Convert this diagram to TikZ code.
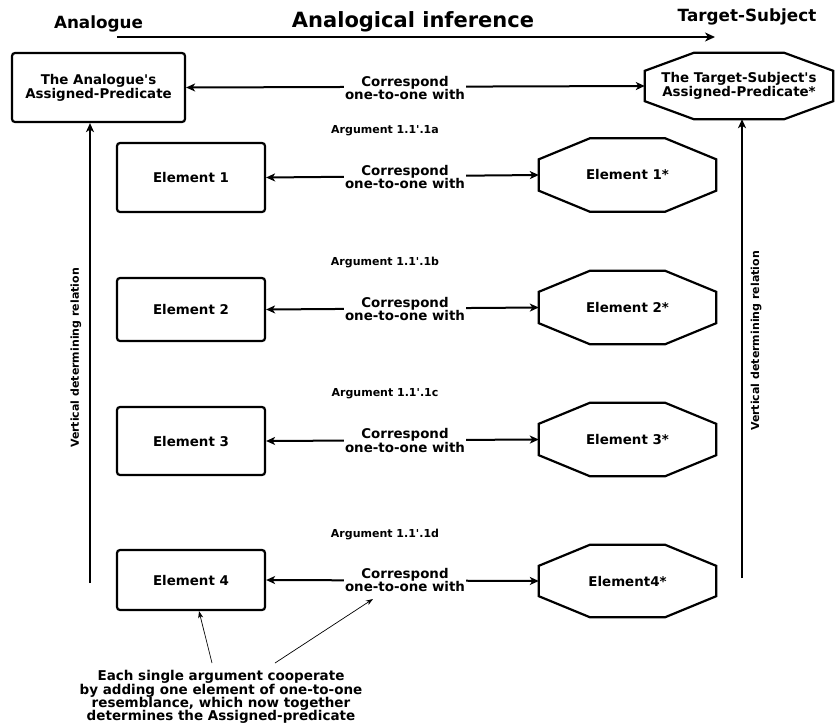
\documentclass[tikz,border=0pt]{standalone}
\usepackage{fontspec}
\setmainfont{DejaVu Sans}[Ligatures=TeXOff]
\usetikzlibrary{arrows.meta,calc}
\newcommand\octdraw[3]{%
  \draw[octline] ($(#1.north west)+(#2,0)$) -- ($(#1.north east)+(-#2,0)$)
    -- ($(#1.north east)+(0,#3)$) -- ($(#1.south east)+(0,-#3)$)
    -- ($(#1.south east)+(-#2,0)$) -- ($(#1.south west)+(#2,0)$)
    -- ($(#1.south west)+(0,-#3)$) -- ($(#1.north west)+(0,#3)$) -- cycle;}
\begin{document}
\begin{tikzpicture}[x=1pt,y=-1pt,
  ftxt/.style={font=\fontsize{13.4}{12.5}\selectfont\bfseries, align=center},
  rbox/.style={ftxt, draw, line width=2.2pt, rounded corners=3pt, inner sep=0pt, minimum width=148pt},
  obox/.style={ftxt, rectangle, inner sep=0pt, minimum width=177pt, minimum height=73pt},
  octline/.style={line width=2.2pt, line join=miter},
  corr/.style={ftxt, fill=white, inner sep=1.5pt},
  argl/.style={font=\fontsize{11}{12}\selectfont\bfseries},
  vlab/.style={font=\fontsize{11}{12}\selectfont\bfseries, rotate=90},
  headl/.style={font=\fontsize{16.8}{18}\selectfont\bfseries, anchor=base},
  biarrow/.style={line width=2pt, {Stealth[length=9pt,width=8pt,inset=2.5pt]}-{Stealth[length=9pt,width=8pt,inset=2.5pt]}},
  uparrow/.style={line width=2pt, -{Stealth[length=9pt,width=8pt,inset=2.5pt]}},
  thinarrow/.style={line width=0.7pt, -{Stealth[length=7pt,width=5pt,inset=2pt]}}
]
\useasboundingbox (0,0) rectangle (835,726);

% headings
\node[headl] (lana) at (98.5,28) {Analogue};
\node[headl, font=\fontsize{21}{24}\selectfont\bfseries] (ttl) at (413,27) {Analogical inference};
\node[headl] (ltgt) at (747,21) {Target-Subject};
\coordinate (hs) at (117,37);
\coordinate (he) at (715,37);
\draw[line width=2.6pt, -{Stealth[length=10pt,width=9pt,inset=3pt]}] (hs) -- (he);

% top row
\node[rbox, minimum width=173pt, minimum height=69pt] (a0) at (98.5,87.5) {The Analogue's\\Assigned-Predicate};
\node[obox, minimum width=188pt, minimum height=66pt] (t0) at (739,86) {The Target-Subject's\\Assigned-Predicate*};
\octdraw{t0}{49}{18}

% element rows
\node[rbox, minimum height=69pt] (e1) at (191,177.5) {Element 1};
\node[obox] (o1) at (627.5,175) {Element 1*};
\node[rbox, minimum height=63pt] (e2) at (191,309.5) {Element 2};
\node[obox] (o2) at (627.5,307.5) {Element 2*};
\node[rbox, minimum height=68pt] (e3) at (191,441) {Element 3};
\node[obox] (o3) at (627.5,439.5) {Element 3*};
\node[rbox, minimum height=60pt] (e4) at (191,580) {Element 4};
\node[obox, minimum height=72pt] (o4) at (627.5,581) {Element4*};
\octdraw{o1}{51}{21}
\octdraw{o2}{51}{21}
\octdraw{o3}{51}{21}
\octdraw{o4}{51}{21}

% correspondence arrows
\draw[biarrow] (a0.east) -- (t0.west);
\draw[biarrow] (e1.east) -- (o1.west);
\draw[biarrow] (e2.east) -- (o2.west);
\draw[biarrow] (e3.east) -- (o3.west);
\draw[biarrow] (e4.east) -- (o4.west);
\node[corr] (l0) at (405,88) {Correspond\\one-to-one with};
\node[corr] (l1) at (405,177) {Correspond\\one-to-one with};
\node[corr] (l2) at (405,309) {Correspond\\one-to-one with};
\node[corr] (l3) at (405,440.5) {Correspond\\one-to-one with};
\node[corr] (l4) at (405,580) {Correspond\\one-to-one with};

% argument labels
\node[argl] (g1) at (385,131) {Argument 1.1'.1a};
\node[argl] (g2) at (385,263) {Argument 1.1'.1b};
\node[argl] (g3) at (385,394) {Argument 1.1'.1c};
\node[argl] (g4) at (385,534) {Argument 1.1'.1d};

% vertical relations
\coordinate (vl) at (90,583);
\coordinate (vr) at (742,578);
\draw[uparrow] (vl) -- (vl |- a0.south);
\draw[uparrow] (vr) -- (vr |- t0.south);
\node[vlab] (vll) at (76,358) {Vertical determining relation};
\node[vlab] (vrl) at (756,341) {Vertical determining relation};

% bottom note
\node[font=\fontsize{13.5}{13.3}\selectfont\bfseries, align=center] (bt) at (221,697)
  {Each single argument cooperate\\by adding one element of one-to-one\\resemblance, which now together\\determines the Assigned-predicate};
\coordinate (p1) at (212,663);
\coordinate (p2) at (275,663);
\coordinate (q2) at (373,599);
\draw[thinarrow] (p1) -- ($(e4.south)+(8,0)$);
\draw[thinarrow] (p2) -- (q2);
\end{tikzpicture}
\end{document}
